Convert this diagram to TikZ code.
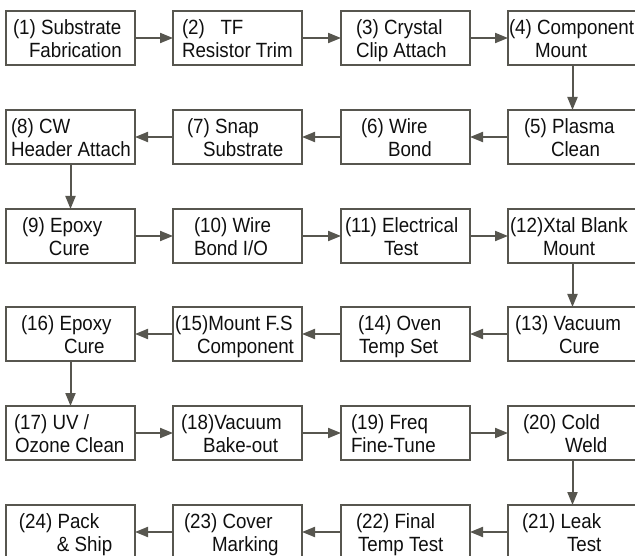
\documentclass[tikz,border=0pt]{standalone}
\usepackage{fontspec}
\setmainfont[FakeStretch=0.91]{Liberation Sans}
\usetikzlibrary{arrows.meta}
\definecolor{linegrey}{RGB}{87,86,79}
\definecolor{txt}{RGB}{15,15,15}
\newcommand{\stg}[4]{\parbox[c][54pt][t]{129pt}{\raggedright\vspace*{7.5pt}\hspace*{#1pt}\strut #2\par\hspace*{#3pt}\strut #4}}
\tikzset{
  stage/.style={draw=linegrey, line width=2pt, rectangle, inner sep=0pt, outer sep=0pt, text=txt,
    font=\fontsize{20.6}{23}\selectfont},
  arr/.style={draw=linegrey, line width=2pt, -{Triangle[length=13pt,width=10pt]}}
}
\begin{document}
\begin{tikzpicture}[x=1pt,y=-1pt]
\useasboundingbox (0,0) rectangle (635,556);
\clip (0,0) rectangle (635,556);
% row 1
\node[stage] (s1) at (70.5,38) {\stg{7}{(1) Substrate}{23}{Fabrication}};
\node[stage] (s2) at (237.5,38) {\stg{9}{(2)\ \ \ TF}{9}{Resistor Trim}};
\node[stage] (s3) at (405.5,38) {\stg{15}{(3) Crystal}{15}{Clip Attach}};
\node[stage] (s4) at (572.5,38) {\stg{1}{(4) Component}{27}{Mount}};
% row 2
\node[stage] (s5) at (572.5,137) {\stg{16}{(5) Plasma}{43}{Clean}};
\node[stage] (s6) at (405.5,137) {\stg{20}{(6) Wire}{47}{Bond}};
\node[stage] (s7) at (237.5,137) {\stg{14}{(7) Snap}{30}{Substrate}};
\node[stage] (s8) at (70.5,137) {\stg{5}{(8) CW}{5}{Header Attach}};
% row 3
\node[stage] (s9) at (70.5,236) {\stg{16}{(9) Epoxy}{43}{Cure}};
\node[stage] (s10) at (237.5,236) {\stg{21}{(10) Wire}{21}{Bond I/O}};
\node[stage] (s11) at (405.5,236) {\stg{4}{(11) Electrical}{43}{Test}};
\node[stage] (s12) at (572.5,236) {\stg{2}{(12)Xtal Blank}{35}{Mount}};
% row 4
\node[stage] (s13) at (572.5,334) {\stg{7}{(13) Vacuum}{51}{Cure}};
\node[stage] (s14) at (405.5,334) {\stg{17}{(14) Oven}{18}{Temp Set}};
\node[stage] (s15) at (237.5,334) {\stg{2}{(15)Mount F.S}{24}{Component}};
\node[stage] (s16) at (70.5,334) {\stg{15}{(16) Epoxy}{58}{Cure}};
% row 5
\node[stage] (s17) at (70.5,433) {\stg{8}{(17) UV /}{9}{Ozone Clean}};
\node[stage] (s18) at (237.5,433) {\stg{8}{(18)Vacuum}{30}{Bake-out}};
\node[stage] (s19) at (405.5,433) {\stg{10}{(19) Freq}{10}{Fine-Tune}};
\node[stage] (s20) at (572.5,433) {\stg{15}{(20) Cold}{57}{Weld}};
% row 6
\node[stage] (s21) at (572.5,532) {\stg{14}{(21) Leak}{59}{Test}};
\node[stage] (s22) at (405.5,532) {\stg{15}{(22) Final}{17}{Temp Test}};
\node[stage] (s23) at (237.5,532) {\stg{11}{(23) Cover}{39}{Marking}};
\node[stage] (s24) at (70.5,532) {\stg{13}{(24) Pack}{51}{\& Ship}};
% connectors
\draw[arr] (s1) -- (s2);
\draw[arr] (s2) -- (s3);
\draw[arr] (s3) -- (s4);
\draw[arr] (s4) -- (s5);
\draw[arr] (s5) -- (s6);
\draw[arr] (s6) -- (s7);
\draw[arr] (s7) -- (s8);
\draw[arr] (s8) -- (s9);
\draw[arr] (s9) -- (s10);
\draw[arr] (s10) -- (s11);
\draw[arr] (s11) -- (s12);
\draw[arr] (s12) -- (s13);
\draw[arr] (s13) -- (s14);
\draw[arr] (s14) -- (s15);
\draw[arr] (s15) -- (s16);
\draw[arr] (s16) -- (s17);
\draw[arr] (s17) -- (s18);
\draw[arr] (s18) -- (s19);
\draw[arr] (s19) -- (s20);
\draw[arr] (s20) -- (s21);
\draw[arr] (s21) -- (s22);
\draw[arr] (s22) -- (s23);
\draw[arr] (s23) -- (s24);
\end{tikzpicture}
\end{document}
